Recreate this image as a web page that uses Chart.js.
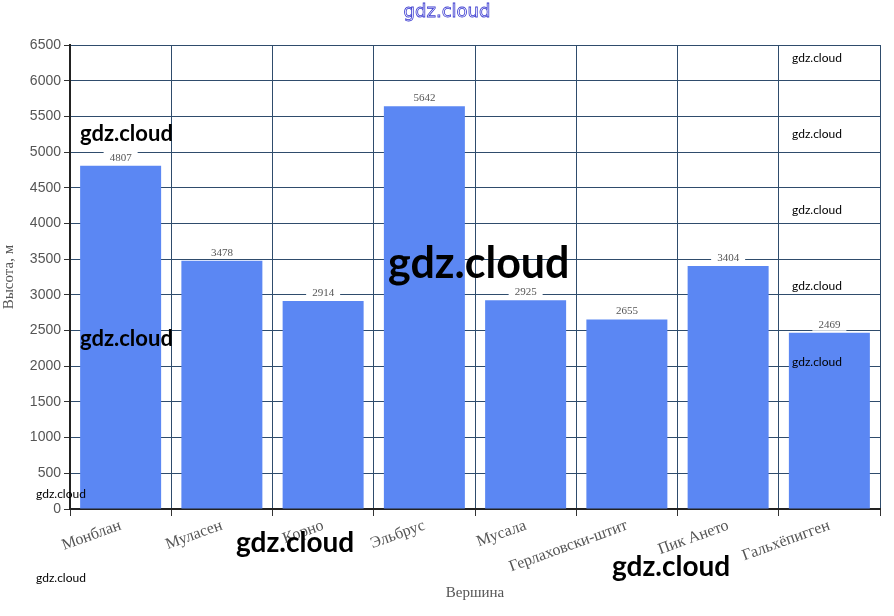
<!DOCTYPE html>
<html>
<head>
<meta charset="utf-8">
<script src="https://cdn.jsdelivr.net/npm/chart.js@4.4.0/dist/chart.umd.min.js"></script>
<style>
  html, body { margin: 0; padding: 0; background: #fff; }
  #wrap { position: relative; width: 894px; height: 616px; }
</style>
</head>
<body>
<div id="wrap"><canvas id="peaksChart" width="894" height="616"></canvas></div>
<script>
// Вершины и высоты (м)
const peaks = ["Монблан", "Муласен", "Корно", "Эльбрус", "Мусала", "Герлаховски-штит", "Пик Ането", "Гальхёпигген"];
const heights = [4807, 3478, 2914, 5642, 2925, 2655, 3404, 2469];
const yTicks = [0, 500, 1000, 1500, 2000, 2500, 3000, 3500, 4000, 4500, 5000, 5500, 6000, 6500];

// watermark texts: [text, x, y, size]
const marks = [
    ["gdz.cloud", 80, 134, 22], ["gdz.cloud", 80, 339, 22], ["gdz.cloud", 388, 264, 43],
    ["gdz.cloud", 236, 543, 28], ["gdz.cloud", 612, 567, 28],
    ["gdz.cloud", 792, 58, 12], ["gdz.cloud", 792, 134, 12], ["gdz.cloud", 792, 210, 12],
    ["gdz.cloud", 792, 286, 12], ["gdz.cloud", 792, 362, 12],
    ["gdz.cloud", 36, 494, 12], ["gdz.cloud", 36, 578, 12]
];

// value labels above bars, on a white box
const valueLabels = {
    id: "valueLabels",
    afterDatasetsDraw(chart) {
        const ctx = chart.ctx;
        const meta = chart.getDatasetMeta(0);
        ctx.save();
        ctx.font = "11px 'Liberation Serif', serif";
        ctx.textAlign = "center";
        ctx.textBaseline = "middle";
        meta.data.forEach((bar, i) => {
            const txt = String(heights[i]);
            const w = ctx.measureText(txt).width + 12;
            ctx.fillStyle = "#ffffff";
            ctx.fillRect(bar.x - w / 2, bar.y - 15, w, 13);
            ctx.fillStyle = "#555555";
            ctx.fillText(txt, bar.x, bar.y - 8);
        });
        ctx.restore();
    }
};

// site watermarks
const watermarks = {
    id: "watermarks",
    afterDraw(chart) {
        const ctx = chart.ctx;
        ctx.save();
        ctx.textAlign = "left";
        ctx.textBaseline = "middle";
        ctx.fillStyle = "#000000";
        marks.forEach(m => {
            const weight = m[3] >= 20 ? "bold " : "";
            ctx.font = weight + m[3] + "px Lato, 'Open Sans', sans-serif";
            ctx.fillText(m[0], m[1], m[2]);
        });
        // outlined title at the top
        ctx.textAlign = "center";
        ctx.font = "18px 'DejaVu Sans', sans-serif";
        ctx.lineWidth = 0.8;
        ctx.strokeStyle = "#3a3ad0";
        ctx.fillStyle = "#ffffff";
        ctx.strokeText("gdz.cloud", 447, 12);
        ctx.restore();
    }
};

new Chart(document.getElementById("peaksChart"), {
    type: "bar",
    data: {
        labels: peaks,
        datasets: [{
            data: heights,
            backgroundColor: "#5b87f3",
            borderWidth: 0,
            barPercentage: 0.8,
            categoryPercentage: 1.0
        }]
    },
    options: {
        responsive: false,
        animation: false,
        layout: { padding: { top: 45, right: 14, left: 0, bottom: 0 } },
        plugins: {
            legend: { display: false },
            tooltip: { enabled: false }
        },
        scales: {
            x: {
                offset: true,
                grid: { offset: true, color: "#2f4c6c", lineWidth: 1, tickLength: 7, tickColor: "#333" },
                border: { color: "#222", width: 2 },
                ticks: {
                    minRotation: 20, maxRotation: 20,
                    color: "#555",
                    font: { family: "'Liberation Serif', serif", size: 16 },
                    padding: 0
                },
                title: {
                    display: true, text: "Вершина", color: "#555",
                    font: { family: "'Liberation Serif', serif", size: 15 },
                    padding: { top: 0, bottom: 14 }
                },
                afterFit(scale) { scale.height = 107; }
            },
            y: {
                min: 0, max: 6500,
                afterBuildTicks(scale) { scale.ticks = yTicks.map(v => ({ value: v })); },
                grid: { color: "#2f4c6c", lineWidth: 1, tickLength: 6, tickColor: "#333" },
                border: { color: "#222", width: 2 },
                ticks: {
                    color: "#555",
                    font: { family: "'Liberation Sans', sans-serif", size: 14 },
                    padding: 3,
                    callback: (v) => String(v)
                },
                title: {
                    display: true, text: "Высота, м", color: "#555",
                    font: { family: "'Liberation Serif', serif", size: 15 },
                    padding: { top: 0, bottom: 0 }
                },
                afterFit(scale) { scale.width = 70; }
            }
        }
    },
    plugins: [valueLabels, watermarks]
});
</script>
</body>
</html>
